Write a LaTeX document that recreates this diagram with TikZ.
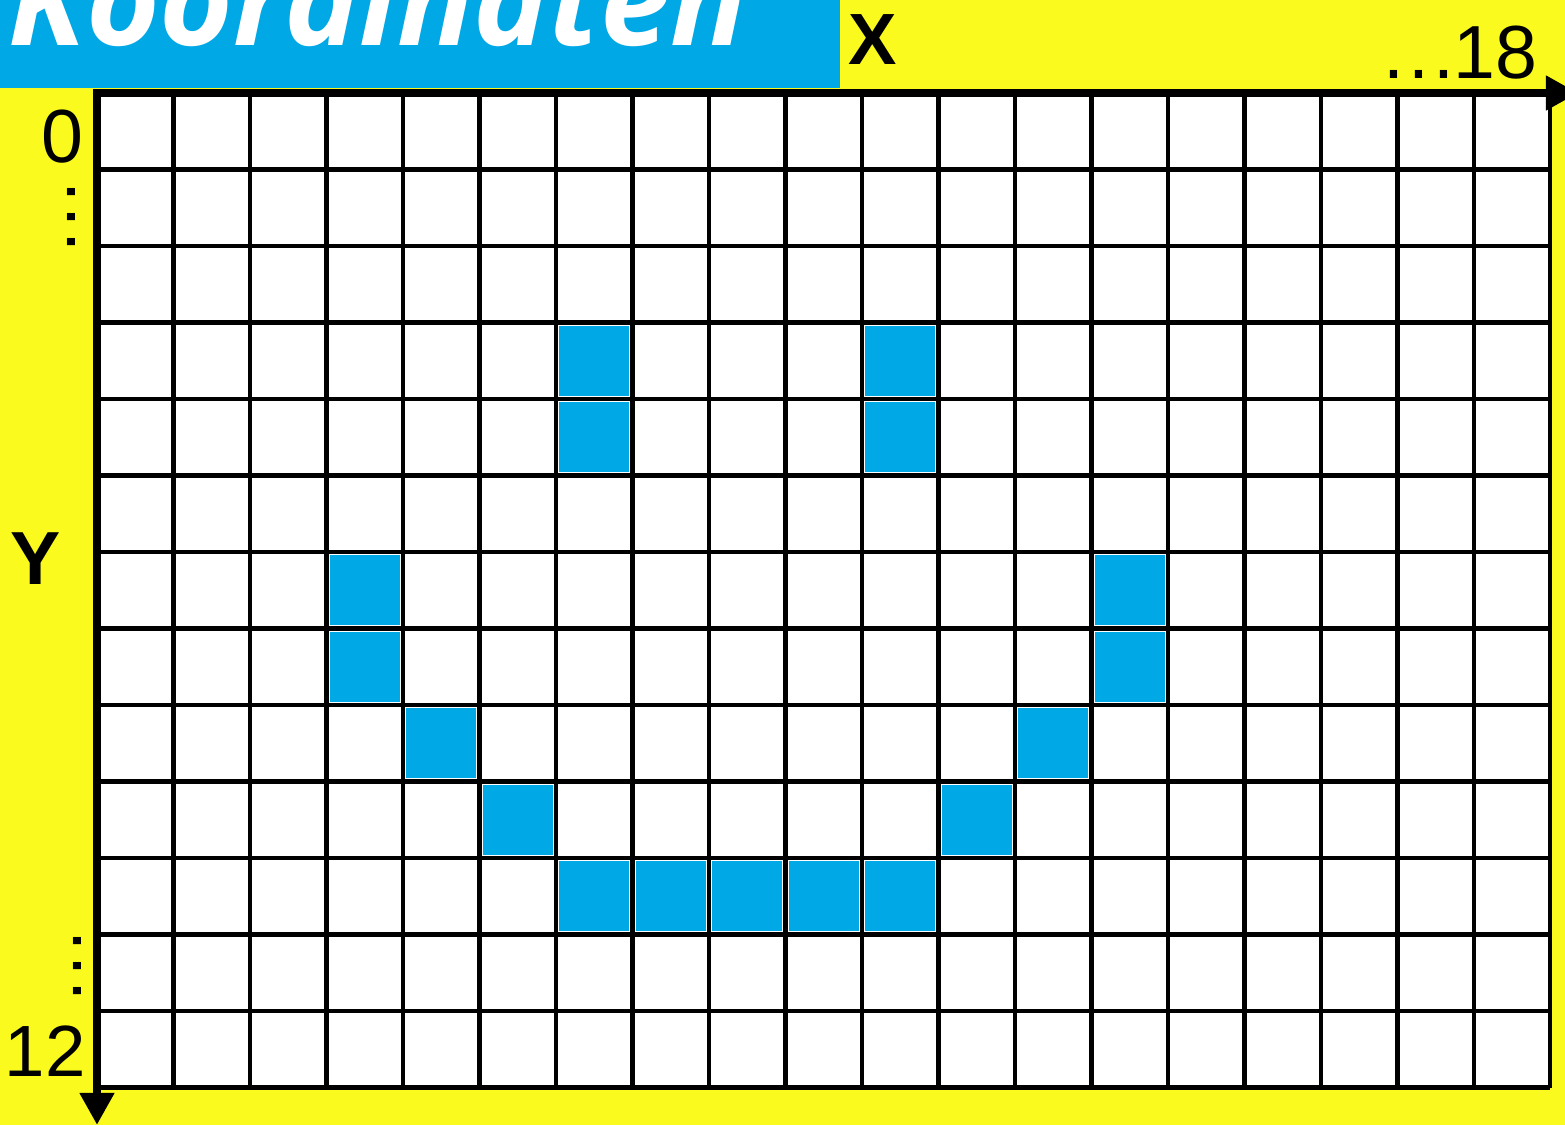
\documentclass[tikz,border=0pt]{standalone}
\usepackage{fontspec}
\setmainfont{Liberation Sans}
\newfontfamily\titelfont{Open Sans}
\usetikzlibrary{arrows.meta}

\definecolor{kgelb}{RGB}{250,250,30}
\definecolor{kblau}{RGB}{0,168,230}

\begin{document}
\begin{tikzpicture}[scale=1,
    zahl/.style={inner sep=0pt, font=\fontsize{28}{28}\selectfont},
    achse/.style={line width=3pt, -{Triangle[width=0.43cm, length=0.42cm]}}]
    % Hintergrund
    \useasboundingbox (-1.268,1.216) rectangle (19.19,-13.49);
    \fill[kgelb] (-1.268,1.216) rectangle (19.19,-13.49);

    % Titelbalken (Text oben abgeschnitten)
    \begin{scope}
        \clip (-1.268,1.216) rectangle (9.712,0.065);
        \fill[kblau] (-1.268,1.216) rectangle (9.712,0.065);
        \node[anchor=base west, inner sep=0pt, text=white,
              font=\titelfont\bfseries\itshape\fontsize{47}{47}\selectfont]
              (titel) at (-1.163,0.627) {Koordinaten};
    \end{scope}

    % Raster 19 x 13
    \fill[white] (0,0) rectangle (19,-13);
    \foreach \c/\r in {6/3, 6/4, 10/3, 10/4, 3/6, 3/7, 13/6, 13/7,
                       4/8, 12/8, 5/9, 11/9, 6/10, 7/10, 8/10, 9/10, 10/10}
        \fill[kblau] (\c+0.045,-\r-0.045) rectangle (\c+0.955,-\r-0.955);
    \draw[line width=1.5pt] (0,-13) grid (19,0);

    % Achsen
    \coordinate (ursprung) at (0,0.05);
    \coordinate (xende) at (19.36,0);
    \coordinate (yende) at (0,-13.49);
    \draw[achse] (-0.05,0) -- (xende);
    \draw[achse] (ursprung) -- (yende);

    % Beschriftung
    \node[zahl, font=\bfseries\fontsize{27}{27}\selectfont, anchor=base] (xlabel) at (10.14,0.379) {X};
    \node[zahl, font=\bfseries\fontsize{28}{28}\selectfont, anchor=base] (ylabel) at (-0.797,-6.43) {Y};
    \node[zahl, anchor=base east] (xmax) at (18.84,0.196) {.\kern1.5pt.\kern1.5pt.18};
    \node[zahl, anchor=base east] (ynull) at (-0.17,-0.902) {0};
    \node[zahl, anchor=base east, font=\fontsize{27}{27}\selectfont] (ymax) at (-0.144,-12.86) {12};
    \node[zahl, rotate=90] (ypunkte1) at (-0.34,-1.62) {.\kern1.5pt.\kern1.5pt.};
    \node[zahl, rotate=90] (ypunkte2) at (-0.261,-11.41) {.\kern1.5pt.\kern1.5pt.};
\end{tikzpicture}
\end{document}
